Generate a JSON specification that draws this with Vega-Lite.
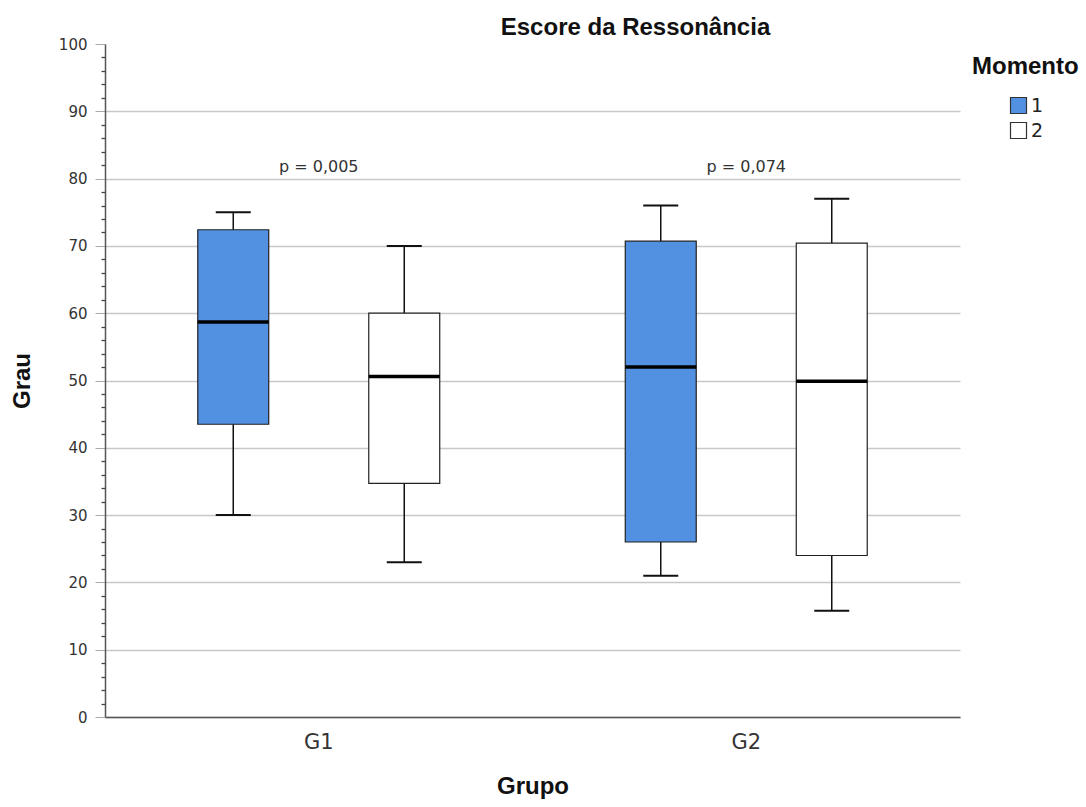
{
  "$schema": "https://vega.github.io/schema/vega-lite/v6.json",
  "width": 855,
  "height": 673,
  "autosize": {"type": "none"},
  "padding": {"left": 105, "top": 44, "right": 126, "bottom": 90},
  "background": "white",
  "title": {
    "text": "Escore da Ressonância",
    "font": "Liberation Sans",
    "fontSize": 24,
    "fontWeight": "bold",
    "color": "#111",
    "anchor": "middle",
    "dx": 103,
    "offset": -3
  },
  "config": {
    "view": {"stroke": null},
    "axis": {"labelFont": "DejaVu Sans", "titleFont": "Liberation Sans"}
  },
  "datasets": {
    "boxes": [
      {"grupo": "G1", "momento": "1", "min": 30, "q1": 43.5, "median": 58.7, "q3": 72.4, "max": 75},
      {"grupo": "G1", "momento": "2", "min": 23, "q1": 34.7, "median": 50.6, "q3": 60, "max": 70},
      {"grupo": "G2", "momento": "1", "min": 21, "q1": 26, "median": 52, "q3": 70.7, "max": 76},
      {"grupo": "G2", "momento": "2", "min": 15.8, "q1": 24, "median": 49.9, "q3": 70.4, "max": 77}
    ],
    "pvalues": [
      {"grupo": "G1", "y": 81.7, "label": "p = 0,005"},
      {"grupo": "G2", "y": 81.7, "label": "p = 0,074"}
    ]
  },
  "resolve": {"axis": {"y": "independent"}},
  "layer": [
    {
      "data": {"name": "boxes"},
      "mark": {"type": "rule", "color": "#111", "strokeWidth": 1.5},
      "encoding": {
        "x": {
          "field": "grupo",
          "type": "nominal",
          "scale": {"paddingInner": 0, "paddingOuter": 0},
          "axis": {
            "title": "Grupo",
            "titleFontSize": 24,
            "titleFontWeight": "bold",
            "titleColor": "#111",
            "titlePadding": 22,
            "labelAngle": 0,
            "labelFontSize": 21,
            "labelColor": "#333",
            "labelPadding": 14,
            "ticks": false,
            "domainColor": "#555",
            "domainWidth": 1.5
          }
        },
        "xOffset": {
          "field": "momento",
          "type": "nominal",
          "scale": {"paddingInner": 0.585, "paddingOuter": 0.5425}
        },
        "y": {
          "field": "min",
          "type": "quantitative",
          "scale": {"domain": [0, 100], "nice": false},
          "axis": {
            "title": "Grau",
            "titleFontSize": 24,
            "titleFontWeight": "bold",
            "titleColor": "#111",
            "titlePadding": 24,
            "values": [0, 10, 20, 30, 40, 50, 60, 70, 80, 90, 100],
            "labelFontSize": 15,
            "labelColor": "#333",
            "labelPadding": 8,
            "tickSize": 10,
            "tickColor": "#aaa",
            "domainColor": "#555",
            "domainWidth": 1.5,
            "grid": true,
            "gridColor": "#c8c8c8",
            "gridWidth": 1.3,
            "gridOpacity": {"condition": {"test": "datum.value >= 100", "value": 0}, "value": 1}
          }
        },
        "y2": {"field": "max"}
      }
    },
    {
      "data": {"name": "boxes"},
      "mark": {"type": "tick", "color": "#111", "opacity": 1, "size": 35, "thickness": 2},
      "encoding": {
        "x": {"field": "grupo", "type": "nominal"},
        "xOffset": {"field": "momento", "type": "nominal"},
        "y": {
          "field": "min",
          "type": "quantitative",
          "axis": {
            "orient": "left",
            "values": [2, 4, 6, 8, 12, 14, 16, 18, 22, 24, 26, 28, 32, 34, 36, 38, 42, 44, 46, 48, 52, 54, 56, 58, 62, 64, 66, 68, 72, 74, 76, 78, 82, 84, 86, 88, 92, 94, 96, 98],
            "labels": false,
            "title": null,
            "grid": false,
            "domain": false,
            "tickSize": 4,
            "tickWidth": 1.3,
            "tickColor": "#444"
          }
        }
      }
    },
    {
      "data": {"name": "boxes"},
      "mark": {"type": "tick", "color": "#111", "opacity": 1, "size": 35, "thickness": 2},
      "encoding": {
        "x": {"field": "grupo", "type": "nominal"},
        "xOffset": {"field": "momento", "type": "nominal"},
        "y": {"field": "max", "type": "quantitative", "axis": null}
      }
    },
    {
      "data": {"name": "boxes"},
      "mark": {"type": "bar", "stroke": "#222", "strokeWidth": 1.2},
      "encoding": {
        "x": {"field": "grupo", "type": "nominal"},
        "xOffset": {"field": "momento", "type": "nominal"},
        "y": {"field": "q1", "type": "quantitative", "axis": null},
        "y2": {"field": "q3"},
        "fill": {
          "field": "momento",
          "type": "nominal",
          "scale": {"domain": ["1", "2"], "range": ["#5291e2", "#ffffff"]},
          "legend": {
            "title": "Momento",
            "titleFont": "Liberation Sans",
            "titleFontSize": 24,
            "titleFontWeight": "bold",
            "titleColor": "#111",
            "titlePadding": 17,
            "labelFont": "DejaVu Sans",
            "labelFontSize": 19,
            "labelColor": "#222",
            "symbolType": "square",
            "symbolSize": 256,
            "symbolStrokeColor": "#333",
            "symbolStrokeWidth": 1.2,
            "symbolOffset": 37,
            "labelOffset": 3,
            "rowPadding": 4,
            "orient": "none",
            "legendX": 867,
            "legendY": 11
          }
        }
      }
    },
    {
      "data": {"name": "boxes"},
      "mark": {"type": "tick", "color": "#000", "opacity": 1, "size": 71, "thickness": 3.5},
      "encoding": {
        "x": {"field": "grupo", "type": "nominal"},
        "xOffset": {"field": "momento", "type": "nominal"},
        "y": {"field": "median", "type": "quantitative", "axis": null}
      }
    },
    {
      "data": {"name": "pvalues"},
      "mark": {"type": "text", "font": "DejaVu Sans", "fontSize": 16, "color": "#333", "baseline": "middle"},
      "encoding": {
        "x": {"field": "grupo", "type": "nominal"},
        "y": {"field": "y", "type": "quantitative", "axis": null},
        "text": {"field": "label"}
      }
    }
  ]
}
